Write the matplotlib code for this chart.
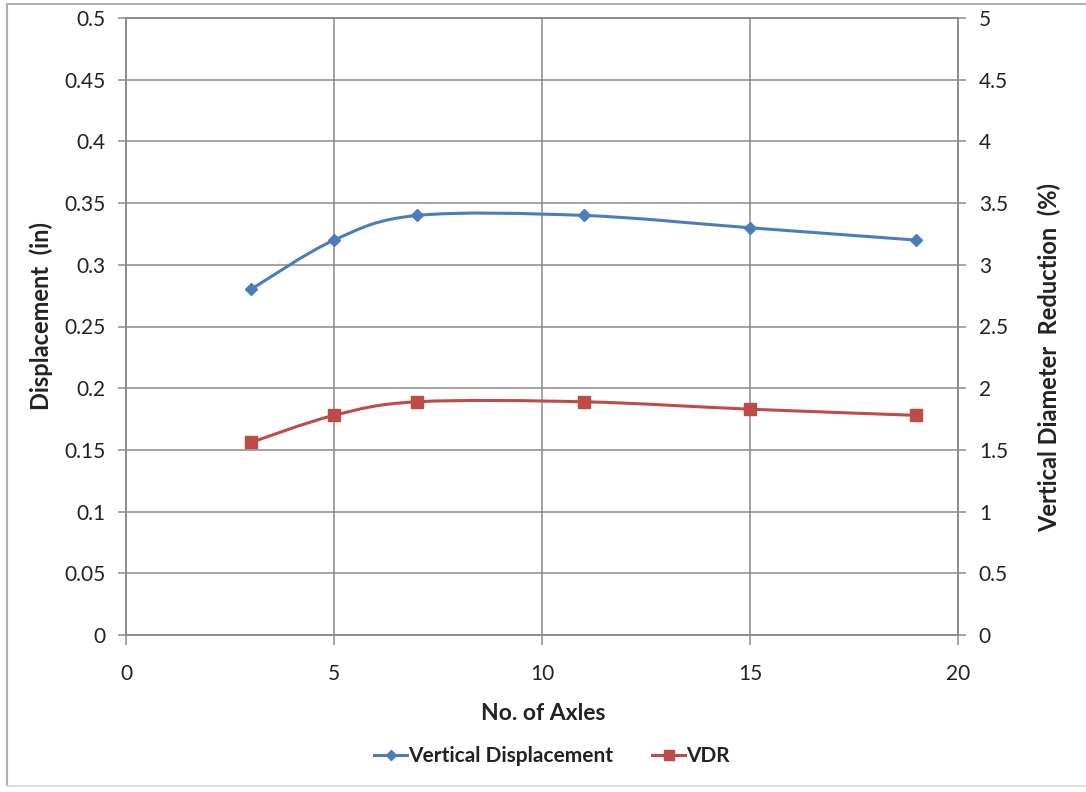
import numpy as np
import matplotlib
matplotlib.use("Agg")
import matplotlib.pyplot as plt
from matplotlib.path import Path
from matplotlib.patches import PathPatch
from matplotlib.lines import Line2D

plt.rcParams['font.family'] = ['Lato', 'DejaVu Sans']

axles = [3, 5, 7, 11, 15, 19]
displacement = [0.28, 0.32, 0.34, 0.34, 0.33, 0.32]
vdr = [1.56, 1.78, 1.89, 1.89, 1.83, 1.78]

left_ticks = [0, 0.05, 0.1, 0.15, 0.2, 0.25, 0.3, 0.35, 0.4, 0.45, 0.5]
left_labels = ["0", "0.05", "0.1", "0.15", "0.2", "0.25", "0.3", "0.35", "0.4", "0.45", "0.5"]
right_ticks = [0, 0.5, 1, 1.5, 2, 2.5, 3, 3.5, 4, 4.5, 5]
right_labels = ["0", "0.5", "1", "1.5", "2", "2.5", "3", "3.5", "4", "4.5", "5"]
x_ticks = [0, 5, 10, 15, 20]

BLUE = "#4A7EBB"
RED = "#BE4B48"
GRID = "#8a8a8a"
TXT = "#222222"
FS = 15
FS_T = 17

W, H = 1086, 792
fig = plt.figure(figsize=(W / 100, H / 100), dpi=100)
fig.patch.set_facecolor("white")

ax = fig.add_axes([126 / W, 1 - 635 / H, (958 - 126) / W, (635 - 18) / H])
ax2 = ax.twinx()


def smooth_path(xs, ys):
    xs = np.asarray(xs, float)
    ys = np.asarray(ys, float)
    pts = np.column_stack([xs, ys])
    n = len(pts)
    verts = [pts[0]]
    codes = [Path.MOVETO]
    for i in range(n - 1):
        p0 = pts[i - 1] if i > 0 else pts[i]
        p1 = pts[i]
        p2 = pts[i + 1]
        p3 = pts[i + 2] if i + 2 < n else pts[i + 1]
        c1 = p1 + (p2 - p0) / 6.0
        c2 = p2 - (p3 - p1) / 6.0
        verts += [c1, c2, p2]
        codes += [Path.CURVE4] * 3
    return Path(verts, codes)


ax.add_patch(PathPatch(smooth_path(axles, displacement), fill=False,
                       edgecolor=BLUE, lw=2.2, zorder=3))
ax.plot(axles, displacement, ls="none", marker="D", ms=6, color=BLUE, zorder=4)
ax2.add_patch(PathPatch(smooth_path(axles, vdr), fill=False,
                        edgecolor=RED, lw=2.2, zorder=3))
ax2.plot(axles, vdr, ls="none", marker="s", ms=8, color=RED, zorder=4)

ax.set_xlim(0, 20)
ax.set_ylim(0, 0.5)
ax2.set_ylim(0, 5)

ax.set_xticks(x_ticks)
ax.set_xticklabels([str(v) for v in x_ticks])
ax.set_yticks(left_ticks)
ax.set_yticklabels(left_labels)
ax2.set_yticks(right_ticks)
ax2.set_yticklabels(right_labels)

ax.grid(True, color=GRID, lw=1.1)
ax.set_axisbelow(True)

for a in (ax, ax2):
    for s in a.spines.values():
        s.set_color(GRID)
        s.set_linewidth(1.1)
ax.tick_params(axis="x", direction="out", length=7, width=1.1, color=GRID,
               labelsize=FS, labelcolor=TXT, pad=14)
ax.tick_params(axis="y", direction="out", length=6, width=1.1, color=GRID,
               labelsize=FS, labelcolor=TXT, pad=9)
ax2.tick_params(axis="y", direction="out", length=6, width=1.1, color=GRID,
                labelsize=FS, labelcolor=TXT, pad=9)

# axis titles placed like the Excel chart
fig.text(543 / W, 1 - 713 / H, "No. of Axles", fontsize=16.5, fontweight="bold",
         color=TXT, ha="center", va="center")
fig.text(41 / W, 1 - 316 / H, "Displacement  (in)", fontsize=FS_T, fontweight="bold",
         color=TXT, ha="center", va="center", rotation=90)
fig.text(1049 / W, 1 - 358 / H, "Vertical Diameter  Reduction  (%)", fontsize=FS_T,
         fontweight="bold", color=TXT, ha="center", va="center", rotation=90)

handles = [
    Line2D([], [], color=BLUE, lw=2.2, marker="D", ms=5),
    Line2D([], [], color=RED, lw=2.2, marker="s", ms=7),
]
leg = fig.legend(handles, ["Vertical Displacement", "VDR"], loc="center",
                 bbox_to_anchor=(552 / W, 1 - 756 / H), ncol=2, frameon=False,
                 handlelength=1.6, handletextpad=0.05, columnspacing=1.85,
                 prop={"size": FS, "weight": "bold"})
for t in leg.get_texts():
    t.set_color(TXT)

# outer chart border
border_col = "#b0b0b0"
fig.add_artist(Line2D([7 / W, 7 / W], [1 - 4 / H, 1 - 786 / H], color=border_col, lw=1.5))
fig.add_artist(Line2D([7 / W, 1.0], [1 - 4 / H, 1 - 4 / H], color=border_col, lw=1.5))
fig.add_artist(Line2D([7 / W, 1.0], [1 - 786 / H, 1 - 786 / H], color="#dddddd", lw=1.5))

fig.savefig("out.png", dpi=100)
